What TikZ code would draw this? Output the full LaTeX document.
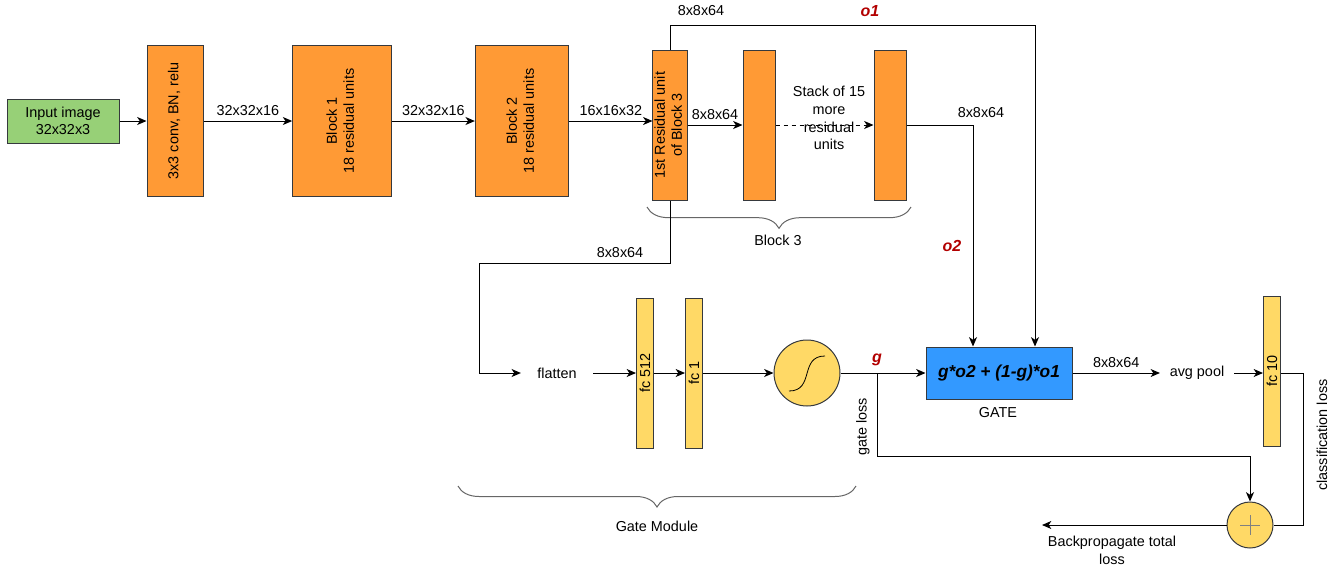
\documentclass[tikz,border=0pt]{standalone}
\usepackage{fontspec}
\setmainfont{Liberation Sans}
\usetikzlibrary{arrows.meta,positioning,calc,decorations.pathreplacing}
\definecolor{layerorange}{HTML}{FF9A35}
\definecolor{inputgreen}{HTML}{97D077}
\definecolor{fcyellow}{HTML}{FFD966}
\definecolor{gateblue}{HTML}{3399FF}
\definecolor{outred}{HTML}{B20000}
\definecolor{edge}{HTML}{36393D}
\newcommand{\vtext}[1]{\rotatebox{90}{\begin{tabular}{@{}c@{}}#1\end{tabular}}}

\begin{document}
\begin{tikzpicture}[x=0.75pt,y=-0.75pt,>={Stealth[length=7pt,width=6pt,inset=2pt]},
 font=\fontsize{10.8}{12.8}\selectfont,line width=0.75pt,
 layer/.style={draw=edge,fill=layerorange,minimum height=113pt,inner sep=0pt},
 fc/.style={draw=edge,fill=fcyellow,minimum width=12.75pt,minimum height=112.5pt,inner sep=0pt},
 ball/.style={circle,draw=edge,fill=fcyellow,minimum size=#1,inner sep=0pt},
 outlbl/.style={text=outred,font=\fontsize{12}{14}\selectfont\bfseries\itshape},
 curly/.style={draw=gray!80!black,decorate,decoration={brace,amplitude=#1}}]
 \useasboundingbox (0,0) rectangle (1340,569);
 % main path
 \node[draw=edge,fill=inputgreen,minimum width=84pt,minimum height=33pt,align=center] (inp) at (63,121) {Input image\\32x32x3};
 \node[layer,minimum width=42pt] (conv) at (175,121) {\vtext{3x3 conv, BN, relu}};
 \node[layer,minimum width=74pt] (b1) at (342,121) {\vtext{Block 1\\18 residual units}};
 \node[layer,minimum width=70pt] (b2) at (522,121) {\vtext{Block 2\\18 residual units}};
 \node[layer,minimum width=25.5pt,minimum height=112.5pt] (u1) at (670,125) {\vtext{1st Residual unit\\of Block 3}};
 \node[layer,minimum width=24pt,minimum height=112.5pt] (u2) at (759,125) {};
 \node[layer,minimum width=24pt,minimum height=112.5pt] (u3) at (890,125) {};
 \node[align=center,font=\fontsize{10.8}{13.3}\selectfont] (stack) at (829,118) {Stack of 15\\more\\residual\\units};
 \draw[->] (inp) -- (conv);
 \draw[->] (conv) -- node[above] {32x32x16} (b1);
 \draw[->] (b1) -- node[above] {32x32x16} (b2);
 \draw[->] (b2) -- node[above] {16x16x32} (b2 -| u1.west);
 \draw[->] (u1) -- node[above] {8x8x64} (u2);
 \draw[->,dash pattern=on 3pt off 3pt] (u2) -- (u3);
 \draw[curly=16pt] (911,207) -- (647,207);
 \node (blk3) at (778,240) {Block 3};
 % gate module
 \node[inner xsep=12pt] (flat) at (557,373) {flatten};
 \node[fc] (fc512) at (645,373) {\rotatebox{90}{fc 512}};
 \node[fc] (fc1) at (694,373) {\rotatebox{90}{fc 1}};
 \node[ball=49.5pt] (sig) at (807,373) {};
 \draw[line width=0.6pt] ($(sig)+(-18,18)$) .. controls ($(sig)+(8,18)$) and ($(sig)+(-8,-17)$) .. ($(sig)+(18,-17)$);
 \node[draw=edge,fill=gateblue,minimum width=109.5pt,minimum height=39pt,font=\fontsize{13}{15}\selectfont\bfseries\itshape] (gate) at (999,373) {g*o2 + (1-g)*o1};
 \node (gatelbl) at (998,413) {GATE};
 \coordinate (fbend) at (479,263);
 \draw[->] (u1.south) |- (fbend) |- (flat.west);
 \node (d4) at (620,253) {8x8x64};
 \draw[->] (flat) -- (fc512);
 \draw[->] (fc512) -- (fc1);
 \draw[->] (fc1) -- (sig);
 \draw[->] (sig) -- (gate);
 \draw[curly=15.75pt] (856,486) -- (458,486);
 \node (gmod) at (657,526) {Gate Module};
 % o1 / o2 into the gate
 \draw[->] (u1.north) -- ++(0,-24) -| ([xshift=27pt]gate.north);
 \node (d5) at (701,11) {8x8x64};
 \node[outlbl] (o1) at (870,11) {o1};
 \draw[->] (u3.east) -| ([xshift=-19.5pt]gate.north);
 \node (d6) at (981,113) {8x8x64};
 \node[outlbl] (o2) at (952,246) {o2};
 % classifier and losses
 \node[inner xsep=7pt] (avg) at (1197,373) {avg pool};
 \node[fc] (fc10) at (1272,371) {\rotatebox{90}{fc 10}};
 \node[ball=34.5pt] (plus) at (1250,525) {};
 \draw[gray,line width=0.6pt] ($(plus)+(-10,0)$) -- ($(plus)+(10,0)$) ($(plus)+(0,-10)$) -- ($(plus)+(0,10)$);
 \draw[->] (gate) -- node[above] {8x8x64} (avg);
 \draw[->] (avg) -- (avg -| fc10.west);
 \coordinate (gpt) at (877,373);
 \node[outlbl] (g) at (877,360) {g};
 \draw[->] (gpt) -- ++(0,83) -| (plus.north);
 \node[rotate=90] (gloss) at (863,427) {gate loss};
 \draw (avg -| fc10.east) -- ++(22,0) |- (plus.east);
 \node[rotate=90] (closs) at (1322,435) {classification loss};
 \coordinate (backend) at (1042,525);
 \draw[->] (plus.west) -- (backend);
 \node[align=center,font=\fontsize{10.8}{13.3}\selectfont] (bprop) at (1112,550) {Backpropagate total\\loss};
\end{tikzpicture}
\end{document}
